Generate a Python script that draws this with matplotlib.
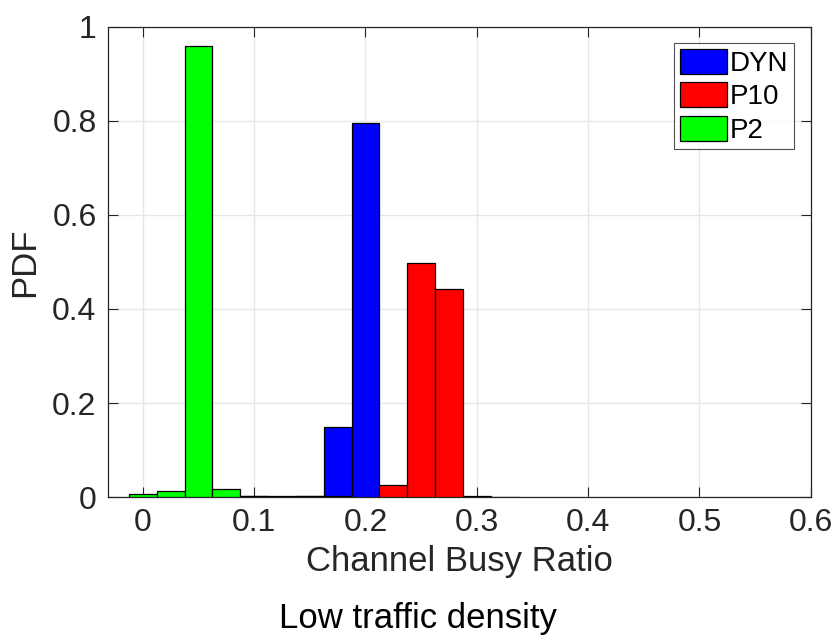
import matplotlib.pyplot as plt
import numpy as np

plt.rcParams['font.family'] = ['Liberation Sans', 'DejaVu Sans']

# Histogram bin centres (bin width 0.025)
bin_centers = [0.0, 0.025, 0.05, 0.075, 0.1, 0.125, 0.15, 0.175, 0.2, 0.225, 0.25, 0.275, 0.3, 0.325]
bin_width = 0.025

# PDF values per scheme
pdf_dyn = [0, 0, 0, 0, 0, 0, 0.002, 0.149, 0.794, 0, 0, 0, 0, 0]
pdf_p10 = [0, 0, 0, 0, 0.002, 0.003, 0.002, 0.003, 0, 0.0255, 0.498, 0.443, 0.003, 0.001]
pdf_p2 = [0.008, 0.013, 0.958, 0.018, 0.003, 0, 0, 0, 0, 0, 0, 0, 0, 0]

series = [('DYN', pdf_dyn, '#0000ff'), ('P10', pdf_p10, '#ff0000'), ('P2', pdf_p2, '#00ff00')]

fig = plt.figure(figsize=(8.35, 6.42), dpi=100)
ax = fig.add_axes([0.129, 0.2254, 0.842, 0.7333])

for name, vals, col in series:
    x = np.array(bin_centers)
    v = np.array(vals)
    keep = v > 0
    ax.bar(x[keep], v[keep], width=bin_width, color=col, edgecolor='black',
           linewidth=0.9, label=name, zorder=3)

ax.set_xlim(-0.0315, 0.6)
ax.set_ylim(0, 1)
ax.set_xticks([0, 0.1, 0.2, 0.3, 0.4, 0.5, 0.6])
ax.set_xticklabels(['0', '0.1', '0.2', '0.3', '0.4', '0.5', '0.6'])
ax.set_yticks([0, 0.2, 0.4, 0.6, 0.8, 1])
ax.set_yticklabels(['0', '0.2', '0.4', '0.6', '0.8', '1'])
ax.grid(True, color='#e6e6e6', linewidth=1, zorder=0)
ax.set_axisbelow(True)
ax.tick_params(direction='in', length=7, width=0.8, top=True, right=True,
               labelsize=23, colors='#262626', pad=8)
for s in ax.spines.values():
    s.set_color('#262626')
    s.set_linewidth(0.9)

ax.set_xlabel('Channel Busy Ratio', fontsize=25, color='#262626', labelpad=5)
ax.set_ylabel('PDF', fontsize=25, color='#262626', labelpad=8)
fig.text(0.5, 0.036, 'Low traffic density', ha='center', va='center', fontsize=25, color='black')

leg = ax.legend(loc='upper right', fontsize=20, frameon=True, fancybox=False,
                edgecolor='#262626', handlelength=1.7, handleheight=1.0,
                handletextpad=0.12, borderpad=0.2, labelspacing=0.2,
                borderaxespad=0.6)
leg.get_frame().set_linewidth(0.8)

fig.savefig('out.png', dpi=100)
